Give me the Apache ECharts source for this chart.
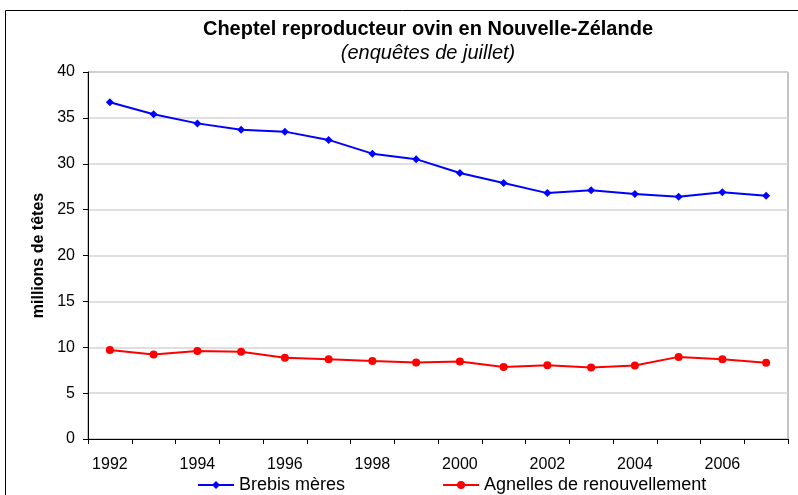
<!DOCTYPE html>
<html>
<head>
<meta charset="utf-8">
<script src="https://cdn.jsdelivr.net/npm/echarts@6/dist/echarts.min.js"></script>
<style>
  html, body { margin: 0; padding: 0; background: #fff; overflow: hidden; }
  #chart { width: 798px; height: 495px; }
</style>
</head>
<body>
<div id="chart"></div>
<script>
// années des enquêtes de juillet
const years = ['1992','1993','1994','1995','1996','1997','1998','1999',
               '2000','2001','2002','2003','2004','2005','2006','2007'];
// millions de têtes
const brebis = [36.7, 35.4, 34.4, 33.7, 33.5, 32.6, 31.1, 30.5,
                29.0, 27.9, 26.8, 27.1, 26.7, 26.4, 26.9, 26.5];
const agnelles = [9.7, 9.2, 9.6, 9.5, 8.85, 8.7, 8.5, 8.35,
                  8.45, 7.85, 8.05, 7.8, 8.0, 8.95, 8.7, 8.3];

const chart = echarts.init(document.getElementById('chart'));
const font = 'Liberation Sans, Arial, sans-serif';

chart.setOption({
  animation: false,
  backgroundColor: '#fff',
  textStyle: { fontFamily: font },
  graphic: [
    {
      // cadre du graphique (bords droit et bas hors champ)
      type: 'rect',
      shape: { x: 5.5, y: 10.5, width: 900, height: 600 },
      style: { fill: 'none', stroke: '#000', lineWidth: 1 },
      silent: true
    }
  ],
  title: [
    {
      text: 'Cheptel reproducteur ovin en Nouvelle-Zélande',
      left: 423, top: 14, textAlign: 'center',
      textStyle: { fontSize: 20, fontWeight: 'bold', color: '#000', fontFamily: font }
    },
    {
      text: '(enquêtes de juillet)',
      left: 423, top: 38, textAlign: 'center',
      textStyle: { fontSize: 20, fontStyle: 'italic', fontWeight: 'normal', color: '#000', fontFamily: font }
    }
  ],
  grid: {
    left: 88, right: 10, top: 72, bottom: 56,
    show: true, borderColor: '#888', borderWidth: 1, backgroundColor: 'transparent'
  },
  legend: {
    bottom: -4, left: 192,
    itemWidth: 36, itemHeight: 10, itemGap: 97,
    textStyle: { fontSize: 18, color: '#000', fontFamily: font },
    data: ['Brebis mères', 'Agnelles de renouvellement']
  },
  xAxis: {
    type: 'category',
    data: years,
    boundaryGap: true,
    axisLine: { lineStyle: { color: '#000', width: 1 } },
    axisTick: { show: true, interval: 0, length: 5, lineStyle: { color: '#000' } },
    axisLabel: { interval: 1, fontSize: 16, color: '#000', margin: 18, fontFamily: font },
    splitLine: { show: false }
  },
  yAxis: {
    type: 'value',
    min: 0, max: 40, interval: 5,
    name: 'millions de têtes',
    nameLocation: 'middle',
    nameGap: 40,
    nameRotate: 90,
    nameTextStyle: { fontSize: 16, fontWeight: 'bold', color: '#000', fontFamily: font },
    axisLine: { show: true, lineStyle: { color: '#000', width: 1 } },
    axisTick: { show: true, length: 5, lineStyle: { color: '#000' } },
    axisLabel: { fontSize: 16, color: '#000', margin: 13, fontFamily: font },
    splitLine: { lineStyle: { color: '#d4d4d4', width: 1.5 } }
  },
  series: [
    {
      name: 'Brebis mères',
      type: 'line',
      data: brebis,
      symbol: 'diamond',
      symbolSize: 8,
      lineStyle: { color: '#0000ff', width: 2 },
      itemStyle: { color: '#0000ff' }
    },
    {
      name: 'Agnelles de renouvellement',
      type: 'line',
      data: agnelles,
      symbol: 'circle',
      symbolSize: 8,
      lineStyle: { color: '#ff0000', width: 2 },
      itemStyle: { color: '#ff0000' }
    }
  ]
});
</script>
</body>
</html>
